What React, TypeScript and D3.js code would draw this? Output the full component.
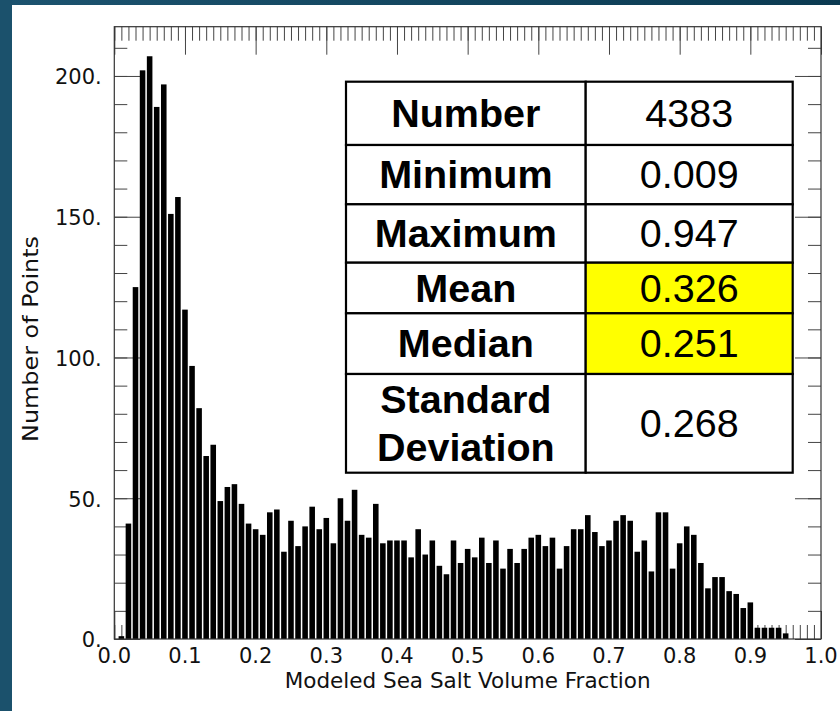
import React, { useRef, useEffect } from "react";
import * as d3 from "d3";

// histogram bins (centre of each 0.01-wide bin) and counts
const binCenters = [
  0.01, 0.02, 0.03, 0.04, 0.05, 0.06, 0.07, 0.08, 0.09, 0.1,
  0.11, 0.12, 0.13, 0.14, 0.15, 0.16, 0.17, 0.18, 0.19, 0.2,
  0.21, 0.22, 0.23, 0.24, 0.25, 0.26, 0.27, 0.28, 0.29, 0.3,
  0.31, 0.32, 0.33, 0.34, 0.35, 0.36, 0.37, 0.38, 0.39, 0.4,
  0.41, 0.42, 0.43, 0.44, 0.45, 0.46, 0.47, 0.48, 0.49, 0.5,
  0.51, 0.52, 0.53, 0.54, 0.55, 0.56, 0.57, 0.58, 0.59, 0.6,
  0.61, 0.62, 0.63, 0.64, 0.65, 0.66, 0.67, 0.68, 0.69, 0.7,
  0.71, 0.72, 0.73, 0.74, 0.75, 0.76, 0.77, 0.78, 0.79, 0.8,
  0.81, 0.82, 0.83, 0.84, 0.85, 0.86, 0.87, 0.88, 0.89, 0.9,
  0.91, 0.92, 0.93, 0.94, 0.95,
];
const pointCounts = [
  1, 41, 125, 202, 207, 189, 197, 151, 157, 117,
  97, 82, 65, 69, 49, 54, 55, 48, 41, 39,
  37, 45, 46, 31, 42, 33, 40, 47, 39, 43,
  34, 50, 42, 53, 37, 36, 48, 34, 35, 35,
  35, 29, 39, 30, 35, 26, 23, 35, 27, 32,
  29, 36, 27, 35, 25, 32, 27, 32, 36, 37,
  33, 36, 25, 33, 39, 39, 44, 38, 33, 35,
  42, 44, 42, 31, 35, 24, 45, 45, 25, 34,
  40, 37, 27, 18, 22, 22, 17, 16, 11, 13,
  4, 4, 4, 4, 2,
];

const xTickValues = [0, 0.1, 0.2, 0.3, 0.4, 0.5, 0.6, 0.7, 0.8, 0.9, 1.0];
const xTickLabels = ["0.0", "0.1", "0.2", "0.3", "0.4", "0.5", "0.6", "0.7", "0.8", "0.9", "1.0"];
const yTickValues = [0, 50, 100, 150, 200];
const yTickLabels = ["0.", "50.", "100.", "150.", "200."];

// summary table
const statNames = ["Number", "Minimum", "Maximum", "Mean", "Median", "Standard Deviation"];
const statValues = ["4383", "0.009", "0.947", "0.326", "0.251", "0.268"];
const statHighlighted = [false, false, false, true, true, false];

const W = 840;
const H = 711;
const plot = { left: 114.3, right: 821, top: 26.7, bottom: 639 };
const tableBox = { left: 346, right: 792.7, split: 585.7 };
const tableRowEdges = [81.7, 145, 204.3, 262.7, 313.3, 374, 472.7];

export default function App() {
  const svgRef = useRef(null);

  useEffect(() => {
    const svg = d3.select(svgRef.current);
    svg.selectAll("*").remove();

    const x = d3.scaleLinear().domain([0, 1]).range([plot.left, plot.right]);
    const y = d3.scaleLinear().domain([0, 217.5]).range([plot.bottom, plot.top]);

    // background + slide border
    const defs = svg.append("defs");
    const grad = defs.append("linearGradient").attr("id", "band").attr("x1", 0).attr("x2", 1);
    grad.append("stop").attr("offset", "0%").attr("stop-color", "#1c536f");
    grad.append("stop").attr("offset", "100%").attr("stop-color", "#0b3a51");
    svg.append("rect").attr("width", W).attr("height", H).attr("fill", "#fff");
    svg.append("rect").attr("width", W).attr("height", 5).attr("fill", "url(#band)");
    svg.append("rect").attr("width", 12).attr("height", H).attr("fill", "#1b516c");

    const tickColor = "#444";
    const minorX = d3.range(0, 101).map((d) => d / 100);
    const minorY = d3.range(0, 220, 10);

    const noLabels = () => "";
    const strip = (g) => {
      g.select(".domain").remove();
      g.selectAll("line").attr("stroke", tickColor);
    };

    // top axis, ticks pointing down
    svg.append("g").attr("transform", `translate(0,${plot.top})`)
      .call(d3.axisBottom(x).tickValues(minorX).tickSize(14).tickFormat(noLabels)).call(strip);
    svg.append("g").attr("transform", `translate(0,${plot.top})`)
      .call(d3.axisBottom(x).tickValues(xTickValues).tickSize(28).tickFormat(noLabels)).call(strip);
    // bottom axis, ticks pointing up
    svg.append("g").attr("transform", `translate(0,${plot.bottom})`)
      .call(d3.axisTop(x).tickValues(minorX).tickSize(14).tickFormat(noLabels)).call(strip);
    svg.append("g").attr("transform", `translate(0,${plot.bottom})`)
      .call(d3.axisTop(x).tickValues(xTickValues).tickSize(28).tickFormat(noLabels)).call(strip);
    // left axis, ticks pointing right
    svg.append("g").attr("transform", `translate(${plot.left},0)`)
      .call(d3.axisRight(y).tickValues(minorY).tickSize(13).tickFormat(noLabels)).call(strip);
    svg.append("g").attr("transform", `translate(${plot.left},0)`)
      .call(d3.axisRight(y).tickValues(yTickValues).tickSize(26).tickFormat(noLabels)).call(strip);
    // right axis, ticks pointing left
    svg.append("g").attr("transform", `translate(${plot.right},0)`)
      .call(d3.axisLeft(y).tickValues(minorY).tickSize(13).tickFormat(noLabels)).call(strip);
    svg.append("g").attr("transform", `translate(${plot.right},0)`)
      .call(d3.axisLeft(y).tickValues(yTickValues).tickSize(26).tickFormat(noLabels)).call(strip);

    // bars
    const binW = x(0.01) - x(0);
    const barW = binW - 1.5;
    svg.append("g")
      .selectAll("rect")
      .data(pointCounts)
      .join("rect")
      .attr("x", (d, i) => x(binCenters[i]) - barW / 2)
      .attr("width", barW)
      .attr("y", (d) => y(d))
      .attr("height", (d) => y(0) - y(d))
      .attr("fill", "#000");

    // frame
    svg.append("rect")
      .attr("x", plot.left)
      .attr("y", plot.top)
      .attr("width", plot.right - plot.left)
      .attr("height", plot.bottom - plot.top)
      .attr("fill", "none")
      .attr("stroke", "#333")
      .attr("stroke-width", 1.2);

    const labelFont = "'DejaVu Sans', sans-serif";

    // tick labels
    svg.append("g")
      .selectAll("text")
      .data(xTickValues)
      .join("text")
      .attr("x", (d) => x(d))
      .attr("y", plot.bottom + 23.5)
      .attr("text-anchor", "middle")
      .attr("font-family", labelFont)
      .attr("font-size", 21)
      .attr("fill", "#111")
      .text((d, i) => xTickLabels[i]);

    svg.append("g")
      .selectAll("text")
      .data(yTickValues)
      .join("text")
      .attr("x", 101.7)
      .attr("y", (d) => y(d) + 8.3)
      .attr("text-anchor", "end")
      .attr("font-family", labelFont)
      .attr("font-size", 21)
      .attr("fill", "#111")
      .text((d, i) => yTickLabels[i]);

    // axis titles
    svg.append("text")
      .attr("x", (plot.left + plot.right) / 2)
      .attr("y", 688.3)
      .attr("text-anchor", "middle")
      .attr("font-family", labelFont)
      .attr("font-size", 21.5)
      .attr("fill", "#111")
      .text("Modeled Sea Salt Volume Fraction");

    svg.append("text")
      .attr("transform", "translate(38,339) rotate(-90)")
      .attr("text-anchor", "middle")
      .attr("font-family", labelFont)
      .attr("font-size", 21.5)
      .attr("textLength", 206)
      .attr("lengthAdjust", "spacingAndGlyphs")
      .attr("fill", "#111")
      .text("Number of Points");

    // stats table
    const table = svg.append("g");
    const tableFont = "'Liberation Sans', Arial, sans-serif";
    statNames.forEach((name, i) => {
      const y0 = tableRowEdges[i];
      const y1 = tableRowEdges[i + 1];
      const mid = (y0 + y1) / 2;
      table.append("rect")
        .attr("x", tableBox.left).attr("y", y0)
        .attr("width", tableBox.split - tableBox.left).attr("height", y1 - y0)
        .attr("fill", "#fff").attr("stroke", "#000").attr("stroke-width", 2.2);
      table.append("rect")
        .attr("x", tableBox.split).attr("y", y0)
        .attr("width", tableBox.right - tableBox.split).attr("height", y1 - y0)
        .attr("fill", statHighlighted[i] ? "#ffff00" : "#fff")
        .attr("stroke", "#000").attr("stroke-width", 2.2);

      const words = name.split(" ");
      const lineGap = 47.4;
      words.forEach((w, j) => {
        table.append("text")
          .attr("x", (tableBox.left + tableBox.split) / 2)
          .attr("y", mid + 13.5 + (j - (words.length - 1) / 2) * lineGap)
          .attr("text-anchor", "middle")
          .attr("font-family", tableFont)
          .attr("font-weight", "bold")
          .attr("font-size", 39.5)
          .attr("fill", "#000")
          .text(w);
      });
      table.append("text")
        .attr("x", (tableBox.split + tableBox.right) / 2)
        .attr("y", mid + 13.5)
        .attr("text-anchor", "middle")
        .attr("font-family", tableFont)
        .attr("font-size", 39.5)
        .attr("fill", "#000")
        .text(statValues[i]);
    });
  }, []);

  return (
    <svg
      ref={svgRef}
      width={W}
      height={H}
      style={{ position: "absolute", left: 0, top: 0, display: "block" }}
    />
  );
}
